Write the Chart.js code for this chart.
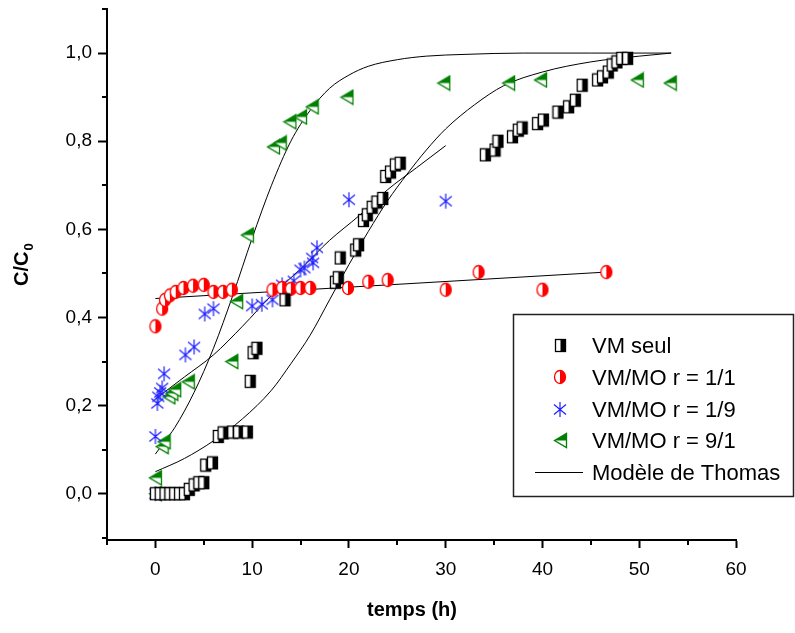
<!DOCTYPE html>
<html>
<head>
<meta charset="utf-8">
<script src="https://cdn.jsdelivr.net/npm/chart.js@4.4.1/dist/chart.umd.min.js"></script>
<style>
  html, body { margin: 0; padding: 0; background: #fff; }
  canvas { display: block; }
</style>
</head>
<body>
<canvas id="thomasChart" width="795" height="633"></canvas>
<script>

var vmSeulT = [0, 0.5, 1, 1.5, 2, 2.5, 3, 3.5, 4, 4.5, 5, 5.2, 5.9, 6.5, 7, 8, 8.6, 9.5, 9.8, 10.1, 10.5, 13.4,
  18.6, 18.9, 19.1, 20.7, 21.0, 21.5, 21.9, 22.4, 22.9, 23.5, 23.8, 24.3, 24.8, 25.3,
  34.1, 35.1, 35.4, 36.9, 37.5, 37.9, 39.5, 40.1, 41.6, 42.7, 43.4, 44.1, 45.7, 46.2, 46.8, 47.2, 47.7, 48.2, 48.8];
var vmSeulC = [0, 0, 0, 0, 0, 0, 0, 0.01, 0.02, 0.025, 0.025, 0.065, 0.07, 0.13, 0.138, 0.14, 0.14, 0.14, 0.255, 0.32, 0.33, 0.44,
  0.48, 0.49, 0.535, 0.553, 0.565, 0.62, 0.633, 0.65, 0.662, 0.67, 0.72, 0.73, 0.746, 0.75,
  0.769, 0.78, 0.80, 0.81, 0.825, 0.83, 0.84, 0.848, 0.866, 0.878, 0.893, 0.927, 0.939, 0.946, 0.957, 0.973, 0.98, 0.988, 0.988];

var r11T = [0, 0.7, 1.0, 1.5, 2.1, 2.9, 3.9, 5.0, 6.0, 7.0, 7.9, 12.1, 13.1, 14.0, 15.0, 16.0, 19.9, 22.0, 24.0, 30.0, 33.4, 40.0, 46.6];
var r11C = [0.38, 0.42, 0.44, 0.45, 0.458, 0.467, 0.472, 0.474, 0.458, 0.458, 0.463, 0.463, 0.467, 0.465, 0.467, 0.467, 0.467, 0.481, 0.485, 0.463, 0.503, 0.463, 0.503];

var r19T = [0, 0, 0.2, 0.3, 0.5, 0.7, 0.9, 3.1, 4.0, 5.1, 6.0, 10.0, 11.0, 12.1, 13.1, 14.3, 15.0, 15.4, 16.3, 16.2, 16.7, 20.0, 30.0];
var r19C = [0, 0.13, 0.205, 0.22, 0.23, 0.24, 0.272, 0.315, 0.333, 0.408, 0.42, 0.426, 0.43, 0.44, 0.474, 0.483, 0.508, 0.512, 0.524, 0.535, 0.558, 0.667, 0.664];

var r91T = [0, 0, 0.7, 0.9, 1.4, 1.7, 2.0, 3.4, 7.9, 8.4, 9.5, 12.2, 12.9, 13.9, 15.0, 16.2, 19.8, 29.8, 36.5, 39.8, 49.8, 53.2];
var r91C = [0, 0.036, 0.107, 0.118, 0.22, 0.228, 0.236, 0.254, 0.30, 0.436, 0.587, 0.787, 0.796, 0.844, 0.855, 0.878, 0.90, 0.932, 0.932, 0.939, 0.939, 0.932];

// Thomas model curves
var fitVmT = [0, 3, 6, 9, 12, 14, 16, 18, 20, 22, 24, 26, 28, 30, 33, 36, 40, 45, 50, 53.3];
var fitVmC = [0.05, 0.08, 0.12, 0.17, 0.235, 0.295, 0.36, 0.44, 0.52, 0.595, 0.665, 0.725, 0.78, 0.828, 0.883, 0.926, 0.957, 0.98, 0.993, 1.0];
var fit91T = [0, 1, 2, 4, 6, 8, 10, 12, 14, 16, 18, 20, 22, 25, 28, 32, 38, 45, 53.3];
var fit91C = [0.09, 0.12, 0.15, 0.23, 0.33, 0.45, 0.58, 0.70, 0.80, 0.87, 0.92, 0.95, 0.97, 0.985, 0.993, 0.997, 1.0, 1.0, 1.0];
var fit19T = [0, 3, 6, 9, 12, 15, 18, 21, 24, 27, 30];
var fit19C = [0.215, 0.265, 0.315, 0.38, 0.45, 0.51, 0.575, 0.63, 0.69, 0.74, 0.79];
var fit11T = [0, 46.6];
var fit11C = [0.443, 0.503];

// axes
var xMajor = [0, 10, 20, 30, 40, 50, 60];
var xMinor = [-5, 5, 15, 25, 35, 45, 55];
var yMajor = [0, 0.2, 0.4, 0.6, 0.8, 1.0];
var yMinor = [-0.1, 0.1, 0.3, 0.5, 0.7, 0.9, 1.1];

var legendLabels = ['VM seul', 'VM/MO r = 1/1', 'VM/MO r = 1/9', 'VM/MO r = 9/1', 'Modèle de Thomas'];

var FONT = '"Liberation Sans", Arial, sans-serif';

function pts(xs, ys) {
  return xs.map(function(x, i) { return { x: x, y: ys[i] }; });
}

// marker images (half filled symbols like Origin)
function squareMarker() {
  var c = document.createElement('canvas');
  c.width = 13; c.height = 15;
  var g = c.getContext('2d');
  g.fillStyle = '#fff'; g.fillRect(1.5, 1.5, 10, 12);
  g.fillStyle = '#000'; g.fillRect(6.5, 1.5, 5, 12);
  g.strokeStyle = '#000'; g.lineWidth = 1.3; g.strokeRect(1.5, 1.5, 10, 12);
  return c;
}

function circleMarker() {
  var c = document.createElement('canvas');
  c.width = 14; c.height = 16;
  var g = c.getContext('2d');
  g.beginPath(); g.ellipse(7, 8, 5.5, 6.5, 0, 0, Math.PI * 2);
  g.fillStyle = '#fff'; g.fill();
  g.beginPath(); g.ellipse(7, 8, 5.5, 6.5, 0, -Math.PI / 2, Math.PI / 2); g.closePath();
  g.fillStyle = '#ff0000'; g.fill();
  g.beginPath(); g.ellipse(7, 8, 5.5, 6.5, 0, 0, Math.PI * 2);
  g.strokeStyle = '#ff0000'; g.lineWidth = 1.3; g.stroke();
  return c;
}

function starMarker() {
  var c = document.createElement('canvas');
  c.width = 16; c.height = 17;
  var g = c.getContext('2d');
  g.strokeStyle = '#1f1fff'; g.lineWidth = 1.2;
  g.beginPath();
  g.moveTo(8, 1); g.lineTo(8, 16);
  g.moveTo(2, 3.5); g.lineTo(14, 13.5);
  g.moveTo(14, 3.5); g.lineTo(2, 13.5);
  g.stroke();
  return c;
}

function triangleMarker() {
  var c = document.createElement('canvas');
  c.width = 15; c.height = 17;
  var g = c.getContext('2d');
  g.beginPath(); g.moveTo(1.5, 8.5); g.lineTo(13.5, 1.5); g.lineTo(13.5, 15.5); g.closePath();
  g.fillStyle = '#fff'; g.fill();
  g.beginPath(); g.moveTo(1.5, 8.5); g.lineTo(13.5, 1.5); g.lineTo(13.5, 8.5); g.closePath();
  g.fillStyle = '#008000'; g.fill();
  g.beginPath(); g.moveTo(1.5, 8.5); g.lineTo(13.5, 1.5); g.lineTo(13.5, 15.5); g.closePath();
  g.strokeStyle = '#008000'; g.lineWidth = 1.3; g.stroke();
  return c;
}

var markers = [squareMarker(), circleMarker(), starMarker(), triangleMarker()];

function fitLine(xs, ys) {
  return {
    data: pts(xs, ys),
    showLine: true,
    borderColor: '#000',
    borderWidth: 1,
    pointRadius: 0,
    cubicInterpolationMode: 'monotone',
    fill: false
  };
}

function pointSet(xs, ys, img) {
  return {
    data: pts(xs, ys),
    showLine: false,
    pointStyle: img,
    pointRadius: 7
  };
}

// minor ticks, axis titles and the boxed legend
var extras = {
  id: 'extras',
  afterDraw: function(chart) {
    var ctx = chart.ctx;
    var xs = chart.scales.x, ys = chart.scales.y;
    var area = chart.chartArea;
    ctx.save();
    ctx.strokeStyle = '#000';
    ctx.lineWidth = 2;
    ctx.beginPath();
    xMinor.forEach(function(v) {
      var px = Math.round(xs.getPixelForValue(v));
      ctx.moveTo(px, area.bottom); ctx.lineTo(px, area.bottom + 5);
    });
    yMinor.forEach(function(v) {
      var py = Math.round(ys.getPixelForValue(v));
      ctx.moveTo(area.left, py); ctx.lineTo(area.left - 5, py);
    });
    ctx.stroke();

    // titles
    ctx.fillStyle = '#000';
    ctx.font = 'bold 20px ' + FONT;
    ctx.textAlign = 'center';
    ctx.textBaseline = 'alphabetic';
    ctx.fillText('temps (h)', 412, 616);

    ctx.save();
    ctx.translate(28, 286);
    ctx.rotate(-Math.PI / 2);
    ctx.textAlign = 'left';
    ctx.font = 'bold 20px ' + FONT;
    ctx.fillText('C/C', 0, 0);
    var w = ctx.measureText('C/C').width;
    ctx.font = 'bold 13px ' + FONT;
    ctx.fillText('0', w + 1, 5);
    ctx.restore();

    // legend
    ctx.lineWidth = 1.5;
    ctx.strokeStyle = '#222';
    ctx.strokeRect(513.5, 314.5, 280, 182);
    ctx.font = '22px ' + FONT;
    ctx.textAlign = 'left';
    var base = [353, 385, 417, 448, 480];
    for (var i = 0; i < 4; i++) {
      var m = markers[i];
      ctx.drawImage(m, Math.round(560 - m.width / 2), Math.round(base[i] - 8 - m.height / 2));
      ctx.fillText(legendLabels[i], 592, base[i]);
    }
    ctx.lineWidth = 1;
    ctx.strokeStyle = '#000';
    ctx.beginPath();
    ctx.moveTo(535, 472.5); ctx.lineTo(583, 472.5);
    ctx.stroke();
    ctx.fillText(legendLabels[4], 592, base[4]);
    ctx.restore();
  }
};

var ctx = document.getElementById('thomasChart').getContext('2d');
var chart = new Chart(ctx, {
  type: 'scatter',
  data: {
    datasets: [
      pointSet(vmSeulT, vmSeulC, markers[0]),
      pointSet(r11T, r11C, markers[1]),
      pointSet(r19T, r19C, markers[2]),
      pointSet(r91T, r91C, markers[3]),
      fitLine(fitVmT, fitVmC),
      fitLine(fit91T, fit91C),
      fitLine(fit19T, fit19C),
      fitLine(fit11T, fit11C)
    ]
  },
  options: {
    responsive: false,
    animation: false,
    devicePixelRatio: 1,
    layout: { padding: { left: 0, right: 59, top: 9, bottom: 0 } },
    plugins: {
      legend: { display: false },
      tooltip: { enabled: false }
    },
    scales: {
      x: {
        type: 'linear',
        min: -5,
        max: 60,
        afterBuildTicks: function(s) { s.ticks = xMajor.map(function(v) { return { value: v }; }); },
        afterFit: function(s) { s.height = 93; s.paddingLeft = 0; s.paddingRight = 0; },
        ticks: {
          color: '#000',
          font: { family: FONT, size: 19 },
          padding: 10,
          maxRotation: 0,
          callback: function(v) { return String(v); }
        },
        grid: { display: true, drawOnChartArea: false, drawTicks: true, tickLength: 8, tickWidth: 2, tickColor: '#000' },
        border: { display: true, color: '#000', width: 2 }
      },
      y: {
        type: 'linear',
        min: -0.105,
        max: 1.1,
        afterBuildTicks: function(s) { s.ticks = yMajor.map(function(v) { return { value: v }; }); },
        afterFit: function(s) { s.width = 107; s.paddingTop = 0; s.paddingBottom = 0; },
        ticks: {
          color: '#000',
          font: { family: FONT, size: 19 },
          padding: 6,
          callback: function(v) { return v.toFixed(1).replace('.', ','); }
        },
        grid: { display: true, drawOnChartArea: false, drawTicks: true, tickLength: 9, tickWidth: 2, tickColor: '#000' },
        border: { display: true, color: '#000', width: 2 }
      }
    }
  },
  plugins: [extras]
});
</script>
</body>
</html>
